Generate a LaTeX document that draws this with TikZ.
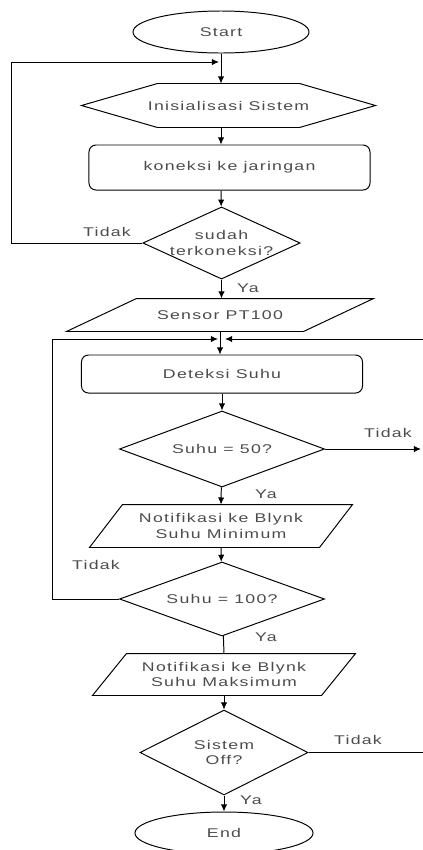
\documentclass[tikz,border=0pt]{standalone}
\usepackage{fontspec}
\setmainfont[FakeStretch=1.4,LetterSpace=10]{Liberation Sans}
\usetikzlibrary{shapes.geometric,arrows.meta}

% slanted input/output box round a plain node
\newcommand{\slantbox}[2]{%
  \draw ([xshift=#2]#1.north west) -- (#1.north east) -- ([xshift=-#2]#1.south east)
    -- (#1.south west) -- cycle;}

\begin{document}
\begin{tikzpicture}[x=0.025cm,y=-0.025cm,line width=0.7pt,
  font=\fontsize{9}{11}\selectfont,text=black!70,
  >={Latex[length=5pt,width=4.5pt]},
  term/.style={ellipse,draw,minimum height=1.05cm,inner sep=0pt},
  proc/.style={rectangle,rounded corners=5pt,draw,minimum width=7.025cm,inner sep=0pt},
  decision/.style={diamond,draw,inner sep=0pt,align=center},
  io/.style={rectangle,align=center,inner sep=0pt},
  lbl/.style={inner sep=0pt}]
  \useasboundingbox (0,0) rectangle (422,850);
  % blocks
  \node[term,minimum width=4.4cm] (start) at (221,32) {Start};
  \node[minimum width=7.325cm,minimum height=1.075cm] (init) at (228.5,105.5) {Inisialisasi Sistem};
  \draw (init.west) -- ([xshift=1.9cm]init.north west) -- ([xshift=-1.9cm]init.north east)
    -- (init.east) -- ([xshift=-1.9cm]init.south east) -- ([xshift=1.9cm]init.south west) -- cycle;
  \node[proc,minimum height=1.125cm] (konek) at (229.5,167.5) {koneksi ke jaringan};
  \node[decision,aspect=2.18,minimum width=3.925cm,minimum height=1.8cm] (sudah) at (221.5,243) {sudah\\terkoneksi?};
  \node[io,minimum width=7.65cm,minimum height=0.8cm] (sensor) at (220,315) {Sensor PT100};
  \slantbox{sensor}{1.75cm}
  \node[proc,minimum height=0.95cm] (deteksi) at (222,374) {Deteksi Suhu};
  \node[decision,aspect=2.7,minimum width=5.125cm,minimum height=1.9cm] (suhu50) at (222,449) {Suhu = 50?};
  \node[io,minimum width=6.55cm,minimum height=1.05cm] (notifmin) at (221,526) {Notifikasi ke Blynk\\Suhu Minimum};
  \slantbox{notifmin}{0.825cm}
  \node[decision,aspect=2.77,minimum width=5.125cm,minimum height=1.85cm] (suhu100) at (222,599) {Suhu = 100?};
  \node[io,minimum width=6.55cm,minimum height=1.025cm] (notifmax) at (224,674.5) {Notifikasi ke Blynk\\Suhu Maksimum};
  \slantbox{notifmax}{0.85cm}
  \node[decision,aspect=1.98,minimum width=4.2cm,minimum height=2.125cm] (off) at (224,752.5) {Sistem\\Off?};
  \node[term,minimum width=4.45cm] (end) at (224,833) {End};
  % labels
  \node[lbl] (t1) at (107,232) {Tidak};
  \node[lbl] (y1) at (248,288) {Ya};
  \node[lbl] (t2) at (388,433) {Tidak};
  \node[lbl] (y2) at (266,494) {Ya};
  \node[lbl] (t3) at (96,565) {Tidak};
  \node[lbl] (y3) at (266,637) {Ya};
  \node[lbl] (t4) at (358,740) {Tidak};
  \node[lbl] (y4) at (251,800) {Ya};
  % loose ends
  \coordinate (loopA) at (219,62);
  \coordinate (loopB) at (218,339);
  \coordinate (loopC) at (225,339);
  \coordinate (out50) at (421,449);
  % arrows
  \draw[->] (start) -- (start |- init.north);
  \draw[->] (start |- init.south) -- (start |- konek.north);
  \draw[->] (start |- konek.south) -- (sudah);
  \draw[->] (sudah.west) -- ++(-131,0) |- (loopA);
  \draw[->] (sudah.south) -- (sudah.south |- sensor.north);
  \draw[->] (sensor.south) -- (sensor.south |- deteksi.north);
  \draw[->] (deteksi) -- (suhu50);
  \draw[->] (suhu50.east) -- (out50);
  \draw[->] (suhu50) -- (notifmin.north);
  \draw[->] (notifmin.south) -- (suhu100);
  \draw[->] (suhu100.west) -- ++(-66,0) |- (loopB);
  \draw (suhu100) -- (notifmax.north);
  \draw[->] (notifmax.south) -- (off);
  \draw[->] (off.east) -- ++(120,0) |- (loopC);
  \draw[->] (off) -- (end);
\end{tikzpicture}
\end{document}
